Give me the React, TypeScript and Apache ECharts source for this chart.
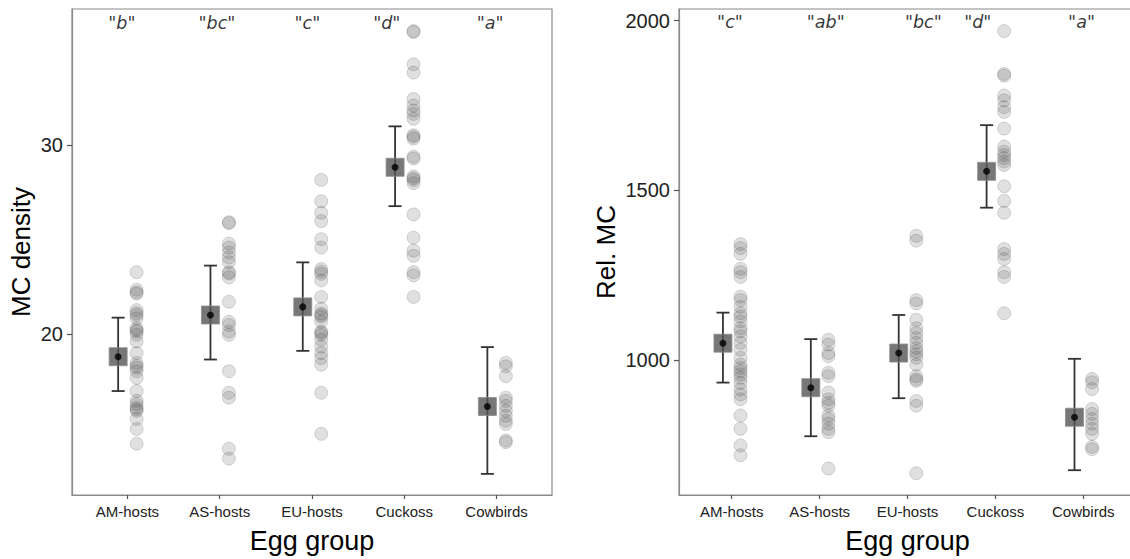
import React, { useEffect, useRef } from "react";
import * as echarts from "echarts";

const categories = ["AM-hosts", "AS-hosts", "EU-hosts", "Cuckoss", "Cowbirds"];

// Left panel: MC density
const mcAM = [23.27, 22.34, 22.2, 22.13, 21.26, 21.1, 21.0, 20.82, 20.3, 20.2, 20.12, 19.95, 19.6, 18.98, 18.46, 18.3, 18.2, 18.02, 17.67, 16.97, 16.45, 16.28, 16.1, 16.0, 15.92, 15.49, 14.96, 14.18];
const mcAS = [25.92, 25.87, 24.79, 24.58, 24.32, 24.05, 23.8, 23.27, 23.2, 23.0, 21.7, 20.64, 20.47, 20.12, 19.95, 18.02, 16.88, 16.62, 13.91, 13.39];
const mcEU = [28.16, 27.03, 26.42, 25.98, 25.02, 24.58, 23.44, 23.3, 23.18, 22.83, 21.96, 21.34, 21.08, 21.0, 20.91, 20.65, 20.12, 20.05, 19.95, 19.69, 19.33, 18.98, 18.72, 18.37, 16.88, 14.7];
const mcCU = [36.05, 36.0, 34.29, 33.85, 32.45, 32.1, 31.84, 31.66, 31.4, 30.53, 30.45, 30.35, 29.39, 29.3, 28.34, 28.25, 28.16, 27.99, 26.33, 25.1, 24.41, 24.14, 23.27, 23.1, 21.96];
const mcCW = [18.46, 18.28, 17.76, 16.62, 16.45, 16.19, 15.92, 15.66, 15.4, 15.23, 14.35, 14.26];
const mcMean = [18.79, 21.0, 21.43, 28.83, 16.15];
const mcLow = [16.97, 18.64, 19.1, 26.77, 12.58];
const mcHigh = [20.86, 23.62, 23.79, 31.0, 19.3];
const mcLetters = ['"b"', '"bc"', '"c"', '"d"', '"a"'];
const mcLetterX = [0.94, 1.97, 2.95, 3.81, 4.93];
const mcLetterY = 36.5;
const mcTicks = [20, 30];

// Right panel: Rel. MC
const relAM = [1342, 1330, 1313, 1269, 1259, 1245, 1187, 1177, 1157, 1138, 1128, 1114, 1094, 1085, 1070, 1051, 1031, 1007, 987, 977, 968, 958, 948, 933, 914, 899, 885, 837, 798, 749, 720];
const relAS = [1060, 1046, 1021, 1012, 963, 953, 905, 885, 875, 866, 837, 827, 813, 798, 788, 681];
const relEU = [1366, 1352, 1177, 1167, 1119, 1094, 1080, 1065, 1051, 1036, 1026, 1017, 1007, 987, 953, 944, 939, 880, 866, 667];
const relCU = [1969, 1843, 1838, 1779, 1765, 1745, 1731, 1682, 1629, 1614, 1604, 1595, 1585, 1575, 1512, 1469, 1434, 1327, 1313, 1298, 1259, 1245, 1138];
const relCW = [945, 935, 915, 856, 842, 827, 813, 798, 783, 745, 738];
const relMean = [1050, 919, 1021, 1556, 832];
const relLow = [934, 776, 888, 1449, 676];
const relHigh = [1140, 1062, 1133, 1692, 1004];
const relLetters = ['"c"', '"ab"', '"bc"', '"d"', '"a"'];
const relLetterX = [0.98, 2.07, 3.18, 3.8, 4.98];
const relLetterY = 1996;
const relTicks = [1000, 1500, 2000];

const POINT_OFFSET = 0.1;
const MEAN_OFFSET = -0.1;

function buildPanel(
  idx: number,
  groups: number[][],
  mean: number[],
  low: number[],
  high: number[],
  letters: string[],
  letterX: number[],
  letterY: number
) {
  const pts: number[][] = [];
  groups.forEach((g, i) => g.forEach((v) => pts.push([i + 1 + POINT_OFFSET, v])));
  const meanData = mean.map((m, i) => [i + 1 + MEAN_OFFSET, m]);
  const errData = mean.map((m, i) => [i + 1 + MEAN_OFFSET, low[i], high[i]]);
  const letterData = letters.map((l, i) => ({ name: l, value: [letterX[i], letterY] }));
  return [
    {
      type: "scatter",
      xAxisIndex: idx,
      yAxisIndex: idx,
      data: pts,
      symbolSize: 13,
      itemStyle: {
        color: "rgba(70,70,70,0.21)",
        borderColor: "rgba(70,70,70,0.24)",
        borderWidth: 1,
      },
      z: 2,
      silent: true,
    },
    {
      type: "custom",
      xAxisIndex: idx,
      yAxisIndex: idx,
      coordinateSystem: "cartesian2d",
      data: errData,
      z: 3,
      silent: true,
      renderItem: (params: any, api: any) => {
        const x = api.value(0);
        const lo = api.coord([x, api.value(1)]);
        const hi = api.coord([x, api.value(2)]);
        const st = { stroke: "#333333", lineWidth: 1.8 };
        const cap = 6.5;
        return {
          type: "group",
          children: [
            { type: "line", shape: { x1: lo[0], y1: lo[1], x2: hi[0], y2: hi[1] }, style: st },
            { type: "line", shape: { x1: hi[0] - cap, y1: hi[1], x2: hi[0] + cap, y2: hi[1] }, style: st },
            { type: "line", shape: { x1: lo[0] - cap, y1: lo[1], x2: lo[0] + cap, y2: lo[1] }, style: st },
          ],
        };
      },
    },
    {
      type: "scatter",
      xAxisIndex: idx,
      yAxisIndex: idx,
      data: meanData,
      symbol: "rect",
      symbolSize: 18,
      itemStyle: { color: "#555555", borderColor: "#8c8c8c", borderWidth: 1 },
      z: 4,
      silent: true,
    },
    {
      type: "scatter",
      xAxisIndex: idx,
      yAxisIndex: idx,
      data: meanData,
      symbol: "circle",
      symbolSize: 7,
      itemStyle: { color: "#000000" },
      z: 5,
      silent: true,
    },
    {
      type: "scatter",
      xAxisIndex: idx,
      yAxisIndex: idx,
      data: letterData,
      symbolSize: 1,
      itemStyle: { color: "rgba(0,0,0,0)" },
      label: {
        show: true,
        position: "inside",
        formatter: (p: any) => p.name,
        fontFamily: "DejaVu Sans",
        fontStyle: "italic",
        fontSize: 17.5,
        color: "#000000",
      },
      z: 6,
      silent: true,
    },
  ];
}

function xAxisCfg(idx: number) {
  const ticks = categories.map((_, i) => i + 1);
  return {
    type: "value",
    gridIndex: idx,
    min: 0.4,
    max: 5.6,
    name: "Egg group",
    nameLocation: "middle",
    nameGap: 32,
    nameTextStyle: { fontFamily: "Liberation Sans", fontSize: 27, color: "#000" },
    axisLine: { show: true, lineStyle: { color: "#8a8a8a", width: 1.2 } },
    axisTick: { show: true, length: 4, customValues: ticks, lineStyle: { color: "#555", width: 1.2 } },
    axisLabel: {
      show: true,
      customValues: ticks,
      margin: 9,
      fontFamily: "Liberation Sans",
      fontSize: 15,
      color: "#222",
      formatter: (v: number) => categories[Math.round(v) - 1] || "",
    },
    splitLine: { show: false },
  };
}

function yAxisCfg(idx: number, min: number, max: number, ticks: number[], name: string, gap: number) {
  return {
    type: "value",
    gridIndex: idx,
    min,
    max,
    name,
    nameLocation: "middle",
    nameGap: gap,
    nameTextStyle: { fontFamily: "Liberation Sans", fontSize: 26, color: "#000" },
    axisLine: { show: true, lineStyle: { color: "#8a8a8a", width: 1.2 } },
    axisTick: { show: true, length: 5, customValues: ticks, lineStyle: { color: "#555", width: 1.2 } },
    axisLabel: {
      show: true,
      customValues: ticks,
      margin: 9,
      fontFamily: "Liberation Sans",
      fontSize: 20,
      color: "#222",
      formatter: (v: number) => String(v),
    },
    splitLine: { show: false },
  };
}

export default function App() {
  const ref = useRef<HTMLDivElement>(null);
  useEffect(() => {
    if (!ref.current) return;
    const chart = echarts.init(ref.current, undefined, { renderer: "svg" });
    chart.setOption({
      animation: false,
      backgroundColor: "#ffffff",
      grid: [
        { left: 72, top: 9, width: 480, height: 491, show: true, borderColor: "#8a8a8a", borderWidth: 1.2, backgroundColor: "#fff" },
        { left: 679, top: 9, width: 457, height: 491, show: true, borderColor: "#8a8a8a", borderWidth: 1.2, backgroundColor: "#fff" },
      ],
      xAxis: [xAxisCfg(0), xAxisCfg(1)],
      yAxis: [
        yAxisCfg(0, 11.46, 37.22, mcTicks, "MC density", 38),
        yAxisCfg(1, 603, 2034, relTicks, "Rel. MC", 60),
      ],
      series: [
        ...buildPanel(0, [mcAM, mcAS, mcEU, mcCU, mcCW], mcMean, mcLow, mcHigh, mcLetters, mcLetterX, mcLetterY),
        ...buildPanel(1, [relAM, relAS, relEU, relCU, relCW], relMean, relLow, relHigh, relLetters, relLetterX, relLetterY),
      ],
    });
    return () => chart.dispose();
  }, []);
  return (
    <div style={{ position: "absolute", left: 0, top: 0, width: 1130, height: 559, overflow: "hidden", background: "#fff" }}>
      <div ref={ref} style={{ width: 1140, height: 559 }} />
    </div>
  );
}
